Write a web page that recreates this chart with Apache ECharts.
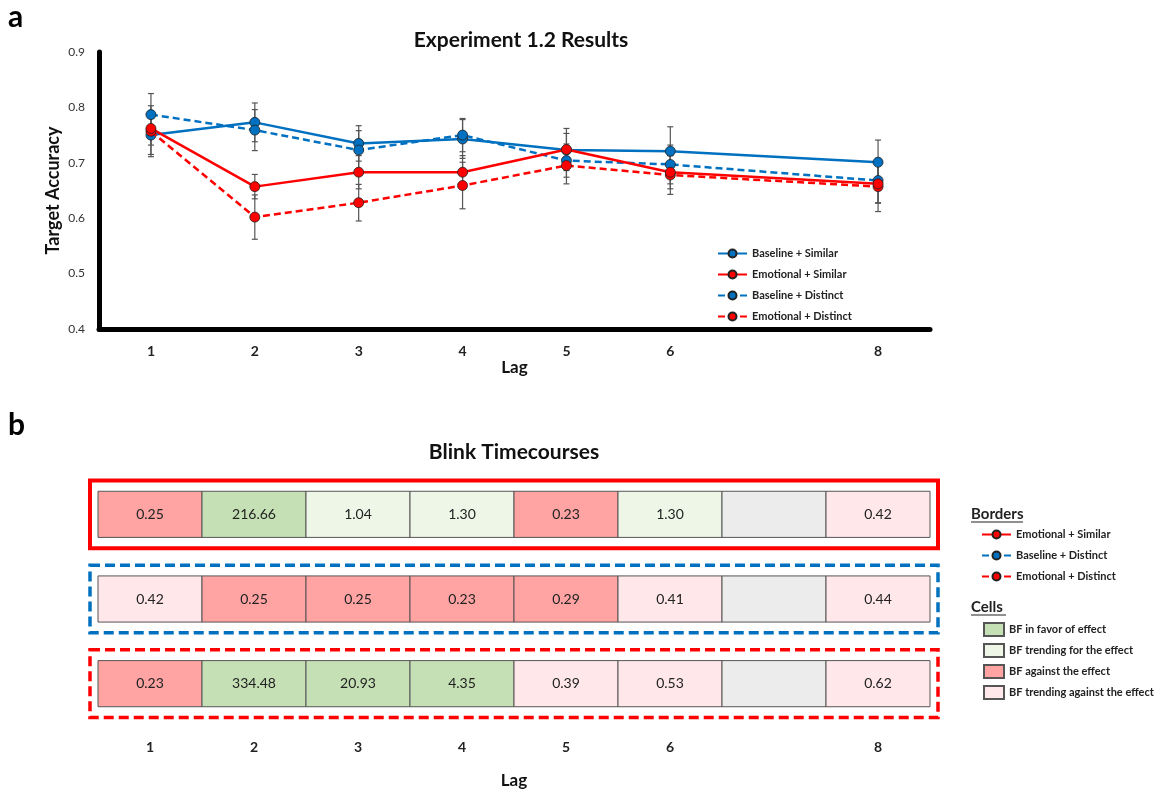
<!DOCTYPE html>
<html><head><meta charset="utf-8">
<script src="https://cdn.jsdelivr.net/npm/echarts@6/dist/echarts.min.js"></script>
<style>html,body{margin:0;padding:0;background:#fff}#c{width:1165px;height:794px}</style>
</head><body><div id="c"></div>
<script>
// ---------- data ----------
const lags = [1, 2, 3, 4, 5, 6, 8];
const lagTickLabels = [1, 2, 3, 4, 5, 6, 8];
const baseSim = [0.750, 0.773, 0.735, 0.743, 0.723, 0.721, 0.701];
const emoSim  = [0.762, 0.657, 0.683, 0.683, 0.724, 0.683, 0.662];
const baseDis = [0.787, 0.759, 0.723, 0.750, 0.704, 0.697, 0.668];
const emoDis  = [0.757, 0.602, 0.628, 0.659, 0.695, 0.678, 0.657];
const baseSimErr = [0.035, 0.035, 0.032, 0.035, 0.030, 0.044, 0.040];
const emoSimErr  = [0.030, 0.022, 0.030, 0.030, 0.038, 0.030, 0.035];
const baseDisErr = [0.038, 0.037, 0.035, 0.030, 0.030, 0.035, 0.040];
const emoDisErr  = [0.046, 0.040, 0.033, 0.042, 0.033, 0.035, 0.045];

const bfLags = [1, 2, 3, 4, 5, 6, 7, 8];
const bfRows = ['Emotional + Similar', 'Baseline + Distinct', 'Emotional + Distinct'];
const bfEmoSim  = [0.25, 216.66, 1.04, 1.30, 0.23, 1.30, null, 0.42];
const bfBaseDis = [0.42, 0.25, 0.25, 0.23, 0.29, 0.41, null, 0.44];
const bfEmoDis  = [0.23, 334.48, 20.93, 4.35, 0.39, 0.53, null, 0.62];
const cellCategories = ['BF in favor of effect', 'BF trending for the effect', 'BF against the effect', 'BF trending against the effect'];

// ---------- styles ----------
const FONT = "Lato, 'Open Sans', sans-serif";
const BLUE = '#0070c0', RED = '#ff0000';
const cellColors = ['#c5e0b4', '#eef6e8', '#ffa3a3', '#ffe7ea'];
const emptyColor = '#ececec';
function bfClass(v) {
  if (v == null || isNaN(v)) return -1;
  if (v >= 3) return 0;
  if (v >= 1) return 1;
  if (v < 1 / 3) return 2;
  return 3;
}

const chart = echarts.init(document.getElementById('c'), null, {renderer: 'canvas'});

function mkLine(name, vals, color, dashed, z) {
  return {
    name, type: 'line', xAxisIndex: 0, yAxisIndex: 0,
    data: lags.map((l, i) => [l, vals[i]]),
    symbol: 'circle', symbolSize: 10, z,
    lineStyle: {color, width: 2.5, type: dashed ? [7, 4] : 'solid'},
    itemStyle: {color, borderColor: '#222', borderWidth: 0.8},
    emphasis: {disabled: true}
  };
}

const errData = [];
[[baseSim, baseSimErr], [emoSim, emoSimErr], [baseDis, baseDisErr], [emoDis, emoDisErr]].forEach(([v, e]) => {
  lags.forEach((l, i) => errData.push([l, v[i] - e[i], v[i] + e[i]]));
});

const cellData = [];
[bfEmoSim, bfBaseDis, bfEmoDis].forEach((arr, r) => {
  bfLags.forEach((l, i) => cellData.push([l, r, arr[i] == null ? '-' : arr[i]]));
});

const borderStyles = [
  {stroke: RED, lineWidth: 4, lineDash: null},
  {stroke: BLUE, lineWidth: 3.5, lineDash: [10, 5]},
  {stroke: RED, lineWidth: 3.5, lineDash: [10, 5]}
];

const legendText = {fontSize: 11, fontWeight: 'bold', color: '#222', fontFamily: FONT};

const option = {
  animation: false,
  backgroundColor: '#fff',
  textStyle: {fontFamily: FONT},
  grid: [
    {left: 99, width: 831, top: 52, height: 277},
    {left: 98, width: 832, top: 472, height: 254}
  ],
  xAxis: [
    {
      gridIndex: 0, type: 'value', min: 0.5, max: 8.5,
      axisLine: {show: true, onZero: false, lineStyle: {color: '#000', width: 5}},
      axisTick: {show: false}, splitLine: {show: false},
      axisLabel: {customValues: lagTickLabels, margin: 15, fontSize: 14, fontWeight: 'bold', color: '#222', fontFamily: FONT},
      name: 'Lag', nameLocation: 'middle', nameGap: 26,
      nameTextStyle: {fontSize: 17, fontWeight: 'bold', color: '#111', fontFamily: FONT}
    },
    {
      gridIndex: 1, type: 'value', min: 0.5, max: 8.5,
      axisLine: {show: false}, axisTick: {show: false}, splitLine: {show: false},
      axisLabel: {customValues: lagTickLabels, margin: 14, fontSize: 14, fontWeight: 'bold', color: '#222', fontFamily: FONT},
      name: 'Lag', nameLocation: 'middle', nameGap: 46,
      nameTextStyle: {fontSize: 17, fontWeight: 'bold', color: '#111', fontFamily: FONT}
    }
  ],
  yAxis: [
    {
      gridIndex: 0, type: 'value', min: 0.4, max: 0.9, interval: 0.1,
      axisLine: {show: true, onZero: false, lineStyle: {color: '#000', width: 5}},
      axisTick: {show: false}, splitLine: {show: false},
      axisLabel: {margin: 14, fontSize: 12, color: '#333', formatter: v => v.toFixed(1), fontFamily: FONT},
      name: 'Target Accuracy', nameLocation: 'middle', nameGap: 37, nameRotate: 90,
      nameMoveOverlap: false,
      nameTextStyle: {fontSize: 18, fontWeight: 'bold', color: '#111', fontFamily: FONT}
    },
    {
      gridIndex: 1, type: 'category', data: bfRows, inverse: true, show: false
    }
  ],
  legend: [
    {
      left: 712, top: 243, orient: 'vertical', itemWidth: 29, itemHeight: 10, itemGap: 10,
      selectedMode: false,
      data: ['Baseline + Similar', 'Emotional + Similar', 'Baseline + Distinct', 'Emotional + Distinct'],
      textStyle: legendText
    },
    {
      left: 976, top: 524, orient: 'vertical', itemWidth: 29, itemHeight: 10, itemGap: 10,
      selectedMode: false,
      data: ['Emotional + Similar', 'Baseline + Distinct', 'Emotional + Distinct'],
      textStyle: legendText
    },
    {
      left: 978, top: 617, orient: 'vertical', itemWidth: 20, itemHeight: 13, itemGap: 6,
      icon: 'rect', selectedMode: false,
      data: cellCategories,
      textStyle: legendText
    }
  ],
  graphic: [
    {type: 'text', left: 8, top: 2, style: {text: 'a', font: "bold 30px " + FONT, fill: '#000'}},
    {type: 'text', left: 8, top: 410, style: {text: 'b', font: "bold 30px " + FONT, fill: '#000'}},
    {type: 'text', x: 521, y: 40, style: {text: 'Experiment 1.2 Results', font: "bold 21px " + FONT, fill: '#111', align: 'center', verticalAlign: 'middle'}},
    {type: 'text', x: 514, y: 452, style: {text: 'Blink Timecourses', font: "bold 21px " + FONT, fill: '#111', align: 'center', verticalAlign: 'middle'}},
    {type: 'text', x: 971, y: 514, style: {text: 'Borders', font: "bold 15px " + FONT, fill: '#222', verticalAlign: 'middle'}},
    {type: 'line', shape: {x1: 971, y1: 522, x2: 1023, y2: 522}, style: {stroke: '#222', lineWidth: 1.2}},
    {type: 'text', x: 971, y: 607, style: {text: 'Cells', font: "bold 15px " + FONT, fill: '#222', verticalAlign: 'middle'}},
    {type: 'line', shape: {x1: 971, y1: 615, x2: 1006, y2: 615}, style: {stroke: '#222', lineWidth: 1.2}}
  ],
  series: [
    {
      type: 'custom', name: 'err', xAxisIndex: 0, yAxisIndex: 0, z: 1,
      data: errData, silent: true,
      renderItem(params, api) {
        const x = api.value(0);
        const lo = api.coord([x, api.value(1)]);
        const hi = api.coord([x, api.value(2)]);
        const cap = 3;
        const st = {stroke: '#555', lineWidth: 1.2};
        return {type: 'group', children: [
          {type: 'line', shape: {x1: lo[0], y1: lo[1], x2: hi[0], y2: hi[1]}, style: st},
          {type: 'line', shape: {x1: lo[0] - cap, y1: lo[1], x2: lo[0] + cap, y2: lo[1]}, style: st},
          {type: 'line', shape: {x1: hi[0] - cap, y1: hi[1], x2: hi[0] + cap, y2: hi[1]}, style: st}
        ]};
      }
    },
    mkLine('Baseline + Similar', baseSim, BLUE, false, 3),
    mkLine('Baseline + Distinct', baseDis, BLUE, true, 3),
    mkLine('Emotional + Distinct', emoDis, RED, true, 4),
    mkLine('Emotional + Similar', emoSim, RED, false, 4),
    {
      type: 'custom', name: 'cells', xAxisIndex: 1, yAxisIndex: 1, z: 2,
      data: cellData, silent: true,
      renderItem(params, api) {
        const x = api.value(0), row = api.value(1), v = api.value(2);
        const c = api.coord([x, row]);
        const w = api.size([1, 0])[0];
        const bh = api.size([0, 1])[1];
        const h = bh * 0.545;
        const k = bfClass(v);
        return {
          type: 'rect',
          shape: {x: c[0] - w / 2, y: c[1] - h / 2, width: w, height: h},
          style: {fill: k < 0 ? emptyColor : cellColors[k], stroke: '#555', lineWidth: 1},
          textContent: {style: {text: k < 0 ? '' : v.toFixed(2), font: '14px ' + FONT, fill: '#222'}},
          textConfig: {position: 'inside'}
        };
      }
    },
    {
      type: 'custom', name: 'borders', xAxisIndex: 1, yAxisIndex: 1, z: 1,
      data: bfRows.map((r, i) => [4.5, i]), silent: true,
      renderItem(params, api) {
        const row = api.value(1);
        const a = api.coord([0.5, row]);
        const b = api.coord([8.5, row]);
        const bh = api.size([0, 1])[1];
        const h = bh * 0.8;
        const pad = 8;
        const s = borderStyles[params.dataIndex];
        return {
          type: 'rect',
          shape: {x: a[0] - pad, y: a[1] - h / 2, width: b[0] - a[0] + 2 * pad, height: h},
          style: {fill: null, stroke: s.stroke, lineWidth: s.lineWidth, lineDash: s.lineDash}
        };
      }
    }
  ].concat(cellCategories.map((name, i) => ({
    type: 'bar', name, xAxisIndex: 1, yAxisIndex: 1, data: [],
    itemStyle: {color: cellColors[i], borderColor: '#555', borderWidth: 1}
  })))
};
chart.setOption(option);
</script>
</body></html>
